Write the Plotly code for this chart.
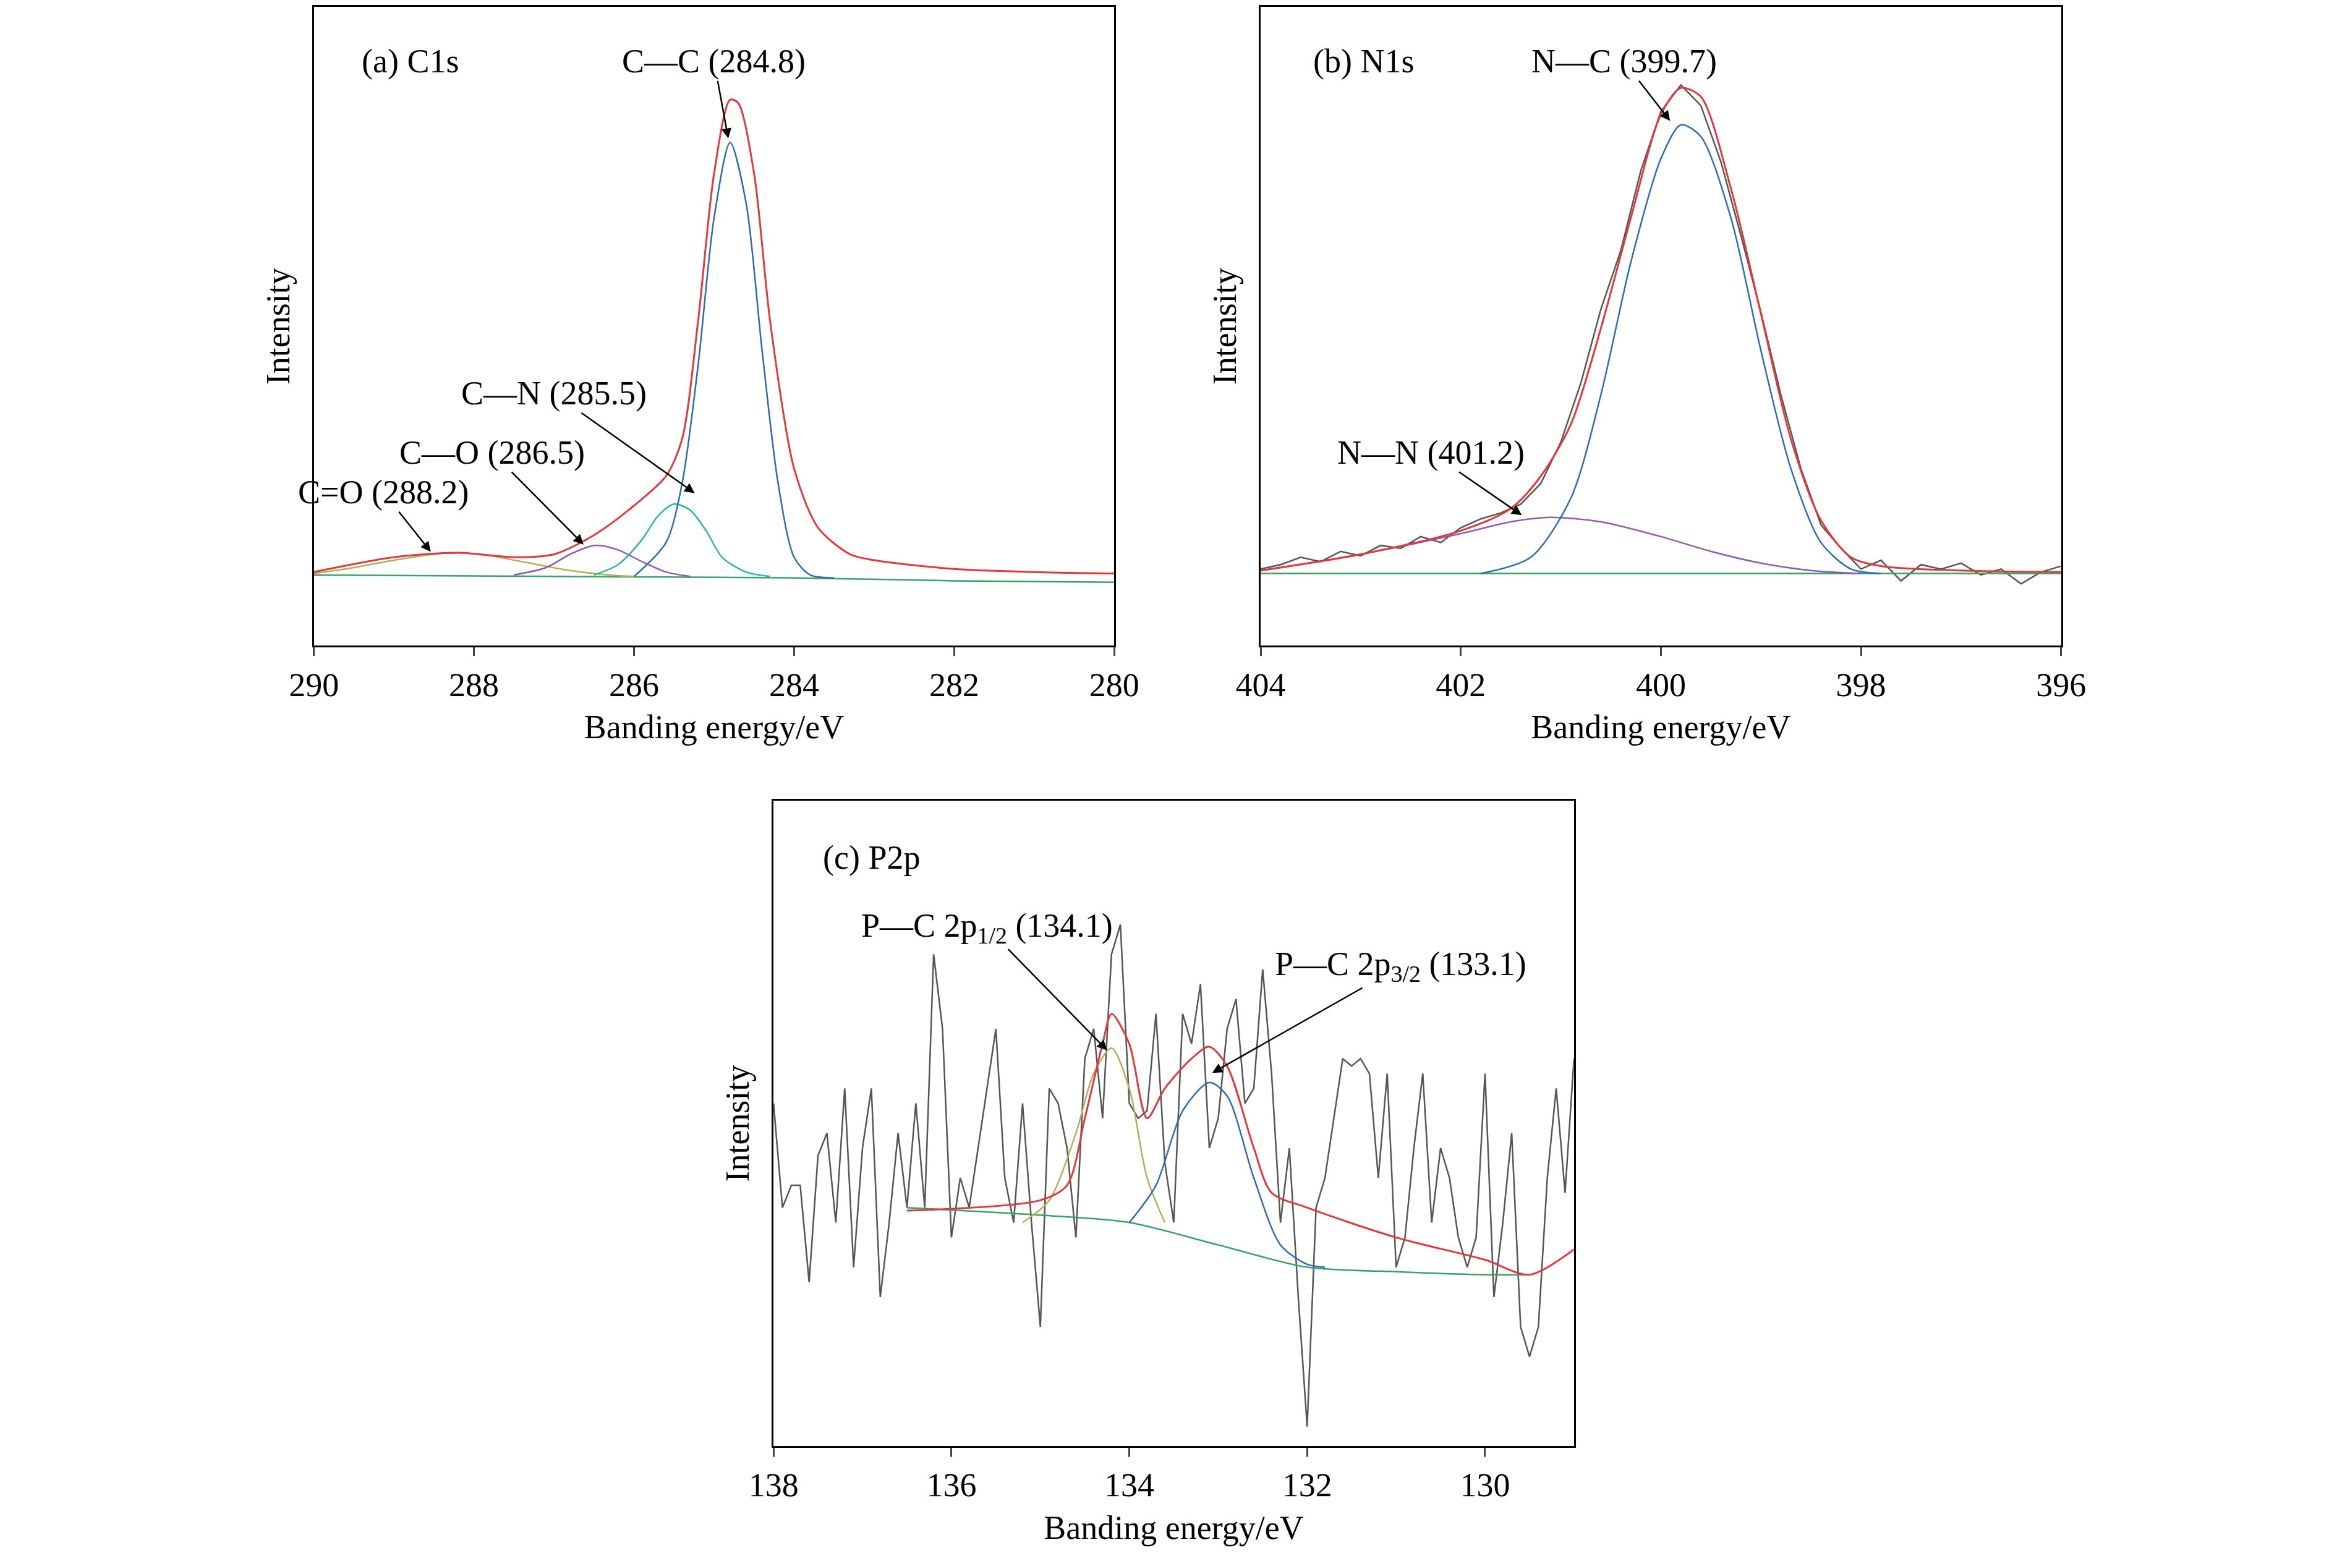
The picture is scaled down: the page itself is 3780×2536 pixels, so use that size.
import plotly.graph_objects as go

# ---- (a) C1s ----
a_bg_x = [290, 287, 284, 282, 280]
a_bg_y = [48, 47, 46, 44, 43]
a_cc_x = [286.0, 285.6, 285.4, 285.2, 285.0, 284.8, 284.6, 284.4, 284.2, 284.0, 283.8, 283.5]
a_cc_y = [47, 70, 110, 190, 290, 341, 300, 200, 110, 60, 48, 46]
a_cn_x = [286.5, 286.2, 285.9, 285.7, 285.5, 285.3, 285.1, 284.9, 284.6, 284.3]
a_cn_y = [48, 55, 72, 88, 96, 92, 78, 60, 50, 47]
a_co_x = [287.5, 287.1, 286.8, 286.5, 286.2, 285.9, 285.6, 285.3]
a_co_y = [48, 53, 62, 68, 65, 57, 50, 47]
a_cdo_x = [290, 289.5, 289, 288.5, 288.2, 287.8, 287.3, 286.8, 286.3, 286.0]
a_cdo_y = [49, 53, 58, 62, 63, 61, 56, 51, 48, 47]
a_sum_x = [290, 289, 288.2, 287.5, 287, 286.5, 286.0, 285.6, 285.4, 285.2, 285.0, 284.8,
           284.7, 284.5, 284.3, 284.0, 283.7, 283.3, 283, 282, 281, 280]
a_sum_y = [50, 60, 63, 60, 62, 75, 95, 115, 140, 220, 320, 370, 368, 320, 220, 120, 80,
           62, 58, 52, 50, 49]

# ---- (b) N1s ----
b_bg_x = [404, 400, 396]
b_bg_y = [49, 49, 49]
b_nc_x = [401.8, 401.3, 400.9, 400.6, 400.3, 400.0, 399.8, 399.6, 399.3, 399.0, 398.7, 398.4, 398.1, 397.8]
b_nc_y = [49, 60, 100, 170, 260, 330, 353, 345, 290, 200, 120, 70, 52, 49]
b_nn_x = [404, 403, 402, 401.5, 401.1, 400.6, 400, 399.5, 399, 398.5, 398]
b_nn_y = [51, 62, 76, 84, 87, 84, 74, 64, 56, 51, 49]
b_sum_x = [404, 403, 402, 401.5, 401.2, 400.9, 400.6, 400.3, 400.0, 399.8, 399.6, 399.3,
           399.0, 398.7, 398.4, 398.1, 397.8, 397, 396]
b_sum_y = [51, 62, 78, 93, 115, 150, 215, 290, 360, 378, 372, 310, 225, 140, 85, 60, 54, 51, 50]
b_raw_x = [404.0, 403.8, 403.6, 403.4, 403.2, 403.0, 402.8, 402.6, 402.4, 402.2, 402.0, 401.8,
           401.6, 401.4, 401.2, 401.0, 400.8, 400.6, 400.4, 400.2, 400.0, 399.8, 399.6, 399.4,
           399.2, 399.0, 398.8, 398.6, 398.4, 398.2, 398.0, 397.8, 397.6, 397.4, 397.2, 397.0,
           396.8, 396.6, 396.4, 396.2, 396.0]
b_raw_y = [52, 55, 60, 57, 64, 61, 68, 66, 74, 70, 80, 86, 90, 96, 110, 138, 178, 228, 268,
           322, 362, 380, 366, 328, 278, 226, 170, 120, 82, 66, 52, 58, 44, 55, 52, 56, 48, 52,
           42, 50, 54]

# ---- (c) P2p ----
c_bg_x = [136.5, 135, 134, 133, 132, 131, 130, 129.5]
c_bg_y = [160, 155, 150, 135, 120, 117, 115, 115]
c_p12_x = [135.2, 134.9, 134.6, 134.4, 134.2, 134.0, 133.8, 133.6]
c_p12_y = [150, 165, 210, 250, 267, 240, 180, 150]
c_p32_x = [134.0, 133.7, 133.4, 133.1, 132.9, 132.6, 132.3, 132.0, 131.8]
c_p32_y = [150, 175, 225, 244, 235, 180, 135, 122, 120]
c_sum_x = [136.5, 135, 134.7, 134.5, 134.3, 134.2, 134.0, 133.8, 133.6, 133.3, 133.1, 132.9,
           132.6, 132.4, 132, 131, 130, 129.5, 129]
c_sum_y = [158, 165, 175, 220, 270, 290, 270, 220, 240, 260, 268, 255, 200, 170, 160, 140,
           125, 115, 132]
c_raw_x = [138.0, 137.9, 137.8, 137.7, 137.6, 137.5, 137.4, 137.3, 137.2, 137.1, 137.0, 136.9,
           136.8, 136.7, 136.6, 136.5, 136.4, 136.3, 136.2, 136.1, 136.0, 135.9, 135.8, 135.7,
           135.6, 135.5, 135.4, 135.3, 135.2, 135.1, 135.0, 134.9, 134.8, 134.7, 134.6, 134.5,
           134.4, 134.3, 134.2, 134.1, 134.0, 133.9, 133.8, 133.7, 133.6, 133.5, 133.4, 133.3,
           133.2, 133.1, 133.0, 132.9, 132.8, 132.7, 132.6, 132.5, 132.4, 132.3, 132.2, 132.1,
           132.0, 131.9, 131.8, 131.7, 131.6, 131.5, 131.4, 131.3, 131.2, 131.1, 131.0, 130.9,
           130.8, 130.7, 130.6, 130.5, 130.4, 130.3, 130.2, 130.1, 130.0, 129.9, 129.8, 129.7,
           129.6, 129.5, 129.4, 129.3, 129.2, 129.1, 129.0]
c_raw_y = [230, 160, 175, 175, 110, 195, 210, 150, 240, 120, 200, 240, 100, 150, 210, 160,
           230, 160, 330, 280, 140, 180, 160, 200, 240, 280, 180, 150, 230, 150, 80, 240, 230,
           200, 140, 260, 280, 220, 330, 350, 230, 220, 225, 290, 190, 150, 290, 270, 310, 200,
           220, 280, 300, 230, 240, 320, 250, 150, 200, 100, 13, 160, 180, 220, 260, 255, 260,
           250, 180, 250, 120, 140, 200, 250, 150, 200, 180, 140, 120, 140, 250, 100, 150, 210,
           80, 60, 80, 180, 240, 170, 260]

F = "Liberation Serif"
RED, BLUE, GREEN, CYAN, PURPLE, OLIVE, GRAY = "#e0393e", "#2b6cb5", "#3aa267", "#2bb3b0", "#8e5bb0", "#b5ad5a", "#555555"

fig = go.Figure()

def line(x, y, color, xa, ya, w=2.5):
    fig.add_trace(go.Scatter(x=x, y=y, mode="lines", xaxis=xa, yaxis=ya, showlegend=False,
                             line=dict(color=color, width=w, shape="spline", smoothing=0.8)))

def raw(x, y, xa, ya):
    fig.add_trace(go.Scatter(x=x, y=y, mode="lines", xaxis=xa, yaxis=ya, showlegend=False,
                             line=dict(color=GRAY, width=2.5)))

line(a_bg_x, a_bg_y, GREEN, "x", "y")
line(a_cdo_x, a_cdo_y, OLIVE, "x", "y")
line(a_co_x, a_co_y, PURPLE, "x", "y")
line(a_cn_x, a_cn_y, CYAN, "x", "y")
line(a_cc_x, a_cc_y, BLUE, "x", "y")
line(a_sum_x, a_sum_y, RED, "x", "y", 3)

raw(b_raw_x, b_raw_y, "x2", "y2")
line(b_bg_x, b_bg_y, GREEN, "x2", "y2")
line(b_nn_x, b_nn_y, PURPLE, "x2", "y2")
line(b_nc_x, b_nc_y, BLUE, "x2", "y2")
line(b_sum_x, b_sum_y, RED, "x2", "y2", 3)

raw(c_raw_x, c_raw_y, "x3", "y3")
line(c_bg_x, c_bg_y, GREEN, "x3", "y3")
line(c_p12_x, c_p12_y, OLIVE, "x3", "y3")
line(c_p32_x, c_p32_y, BLUE, "x3", "y3")
line(c_sum_x, c_sum_y, RED, "x3", "y3", 3)

tick = dict(family=F, size=54, color="black")
xcommon = dict(showline=True, linecolor="black", linewidth=2.5, mirror=True, ticks="outside",
               ticklen=14, tickwidth=2.5, showgrid=False, zeroline=False, tickfont=tick,
               title=dict(text="Banding energy/eV", font=tick, standoff=20))
ycommon = dict(showline=True, linecolor="black", linewidth=2.5, mirror=True, showticklabels=False,
               ticks="", showgrid=False, zeroline=False, range=[0, 433],
               title=dict(text="Intensity", font=tick, standoff=20))

fig.update_layout(
    width=3780, height=2536, paper_bgcolor="white", plot_bgcolor="white",
    margin=dict(l=0, r=0, t=0, b=0),
    xaxis=dict(xcommon, domain=[0.124, 0.474], range=[290, 280], dtick=2, anchor="y"),
    yaxis=dict(ycommon, domain=[0.592, 1.0], anchor="x"),
    xaxis2=dict(xcommon, domain=[0.538, 0.888], range=[404, 396], dtick=2, anchor="y2"),
    yaxis2=dict(ycommon, domain=[0.592, 1.0], anchor="x2"),
    xaxis3=dict(xcommon, domain=[0.325, 0.675], range=[138, 129], dtick=2, tick0=130, anchor="y3"),
    yaxis3=dict(ycommon, domain=[0.081, 0.493], anchor="x3"),
)

ann_font = dict(family=F, size=54, color="black")

def label(text, x, y, xa, ya):
    fig.add_annotation(text=text, x=x, y=y, xref=xa, yref=ya, showarrow=False, font=ann_font)

def arrow(text, tx, ty, x1, y1, xa, ya):
    # arrow runs from the label box to the peak it names
    fig.add_annotation(text=text, x=x1, y=y1, ax=tx, ay=ty, xref=xa, yref=ya, axref=xa, ayref=ya,
                       font=ann_font, showarrow=True, arrowhead=2, arrowsize=1.3,
                       arrowwidth=2.5, arrowcolor="black", standoff=2)

label("(a) C1s", 288.8, 396, "x", "y")
arrow("C—C (284.8)", 285.0, 396, 284.82, 343, "x", "y")
arrow("C—N (285.5)", 287.0, 171, 285.23, 103, "x", "y")
arrow("C—O (286.5)", 287.77, 131, 286.62, 68, "x", "y")
arrow("C=O (288.2)", 289.13, 104, 288.53, 63, "x", "y")

label("(b) N1s", 402.97, 396, "x2", "y2")
arrow("N—C (399.7)", 400.37, 396, 399.9, 355, "x2", "y2")
arrow("N—N (401.2)", 402.3, 131, 401.38, 88, "x2", "y2")

label("(c) P2p", 136.9, 395, "x3", "y3")
arrow("P—C 2p<sub>1/2</sub> (134.1)", 135.6, 348, 134.24, 265, "x3", "y3")
arrow("P—C 2p<sub>3/2</sub> (133.1)", 130.95, 322, 133.08, 250, "x3", "y3")

fig.write_html("out.html")
